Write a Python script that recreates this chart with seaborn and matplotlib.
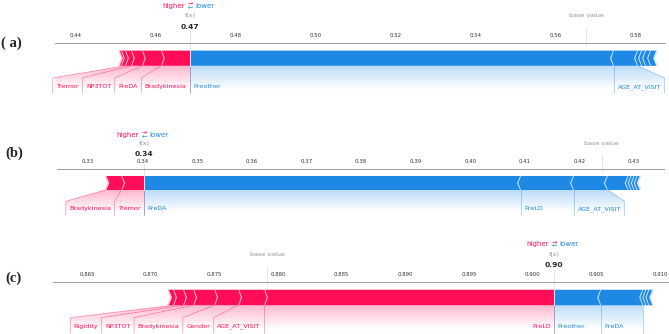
import numpy as np
import matplotlib
matplotlib.use("Agg")
import matplotlib.pyplot as plt
from matplotlib.path import Path
from matplotlib.patches import PathPatch, Polygon
from matplotlib.colors import LinearSegmentedColormap
import seaborn as sns

sns.set_theme(style="white")
plt.rcParams["font.family"] = ["DejaVu Sans"]

# ---------------------------------------------------------------------------
# Data (SHAP contributions)
# ---------------------------------------------------------------------------

a_base = 0.5675
a_pos_names = ["Bradykinesia", "PreDA", "NP3TOT", "Tremor", "", ""]
a_pos_vals = [0.00725, 0.00475, 0.00275, 0.0015, 0.001, 0.0005]
a_neg_names = ["Preother", "AGE_AT_VISIT", "", "", "", ""]
a_neg_vals = [0.106, 0.006, 0.001, 0.001, 0.00125, 0.0015]
a_ticks = [0.44, 0.46, 0.48, 0.50, 0.52, 0.54, 0.56, 0.58]
a_ticklabels = ["0.44", "0.46", "0.48", "0.50", "0.52", "0.54", "0.56", "0.58"]
a_xlim = (0.43475, 0.58725)

b_base = 0.4241
b_pos_names = ["Tremor", "Bradykinesia"]
b_pos_vals = [0.0042, 0.0029]
b_neg_names = ["PreDA", "PreLD", "AGE_AT_VISIT", "", "", "", "", ""]
b_neg_vals = [0.0690, 0.0097, 0.0062, 0.0038, 0.00055, 0.00055, 0.00055, 0.00055]
b_ticks = [0.33, 0.34, 0.35, 0.36, 0.37, 0.38, 0.39, 0.40, 0.41, 0.42, 0.43]
b_ticklabels = ["0.33", "0.34", "0.35", "0.36", "0.37", "0.38", "0.39", "0.40", "0.41", "0.42", "0.43"]
b_xlim = (0.32432, 0.43549)

c_base = 0.87914
c_pos_names = ["PreLD", "AGE_AT_VISIT", "Gender", "Bradykinesia", "NP3TOT", "Rigidity", ""]
c_pos_vals = [0.02278, 0.00204, 0.00188, 0.00165, 0.00079, 0.00079, 0.00039]
c_neg_names = ["Preother", "PreDA", "", "", ""]
c_neg_vals = [0.00369, 0.0033, 0.00024, 0.00024, 0.0003]
c_ticks = [0.865, 0.870, 0.875, 0.880, 0.885, 0.890, 0.895, 0.900, 0.905, 0.910]
c_ticklabels = ["0.865", "0.870", "0.875", "0.880", "0.885", "0.890", "0.895", "0.900", "0.905", "0.910"]
c_xlim = (0.86233, 0.91063)

panel_tags = ["( a)", "(b)", "(c)"]

# ---------------------------------------------------------------------------
# Style
# ---------------------------------------------------------------------------

RED = "#FF0D57"
BLUE = "#1E88E5"
RED_LIGHT = "#FFC3D5"
BLUE_LIGHT = "#D1E6FA"
SCALE = 0.385          # the force plots were shrunk to fit the page
LABEL_FS = 12 * SCALE
OUT_FS = 14 * SCALE
HL_FS = 13 * SCALE
TICK_FS = 10 * SCALE
BAR_W = 0.1
YLIM = (-0.2, 0.15)

W, H = 669, 334
fig = plt.figure(figsize=(W / 100, H / 100), dpi=100)
renderer = fig.canvas.get_renderer()


def px(ax, n):
    """n pixels expressed in x data units."""
    x0, x1 = ax.get_xlim()
    return n * (x1 - x0) / (ax.get_position().width * W)


def draw_bars(ax, fx, vals, kind):
    sep = (ax.get_xlim()[1] - ax.get_xlim()[0]) / 200
    pre = fx
    for i, v in enumerate(vals):
        if kind == "pos":
            left, right = pre - v, pre
            pre = left
            indent, sep_pos, cols = abs(sep), left, (RED, RED_LIGHT)
        else:
            left, right = pre, pre + v
            pre = right
            indent, sep_pos, cols = -abs(sep), right, (BLUE, BLUE_LIGHT)
        if i == 0:
            if kind == "pos":
                pts = [[left, 0], [right, 0], [right, BAR_W], [left, BAR_W], [left + indent, BAR_W / 2]]
            else:
                pts = [[right, 0], [left, 0], [left, BAR_W], [right, BAR_W], [right + indent, BAR_W / 2]]
        else:
            pts = [[left, 0], [right, 0], [right + indent * 0.9, BAR_W / 2], [right, BAR_W],
                   [left, BAR_W], [left + indent * 0.9, BAR_W / 2]]
        ax.add_patch(Polygon(pts, closed=True, fill=True, facecolor=cols[0], linewidth=0))
        ax.add_patch(Polygon([[sep_pos, 0], [sep_pos + indent, BAR_W / 2], [sep_pos, BAR_W]],
                             closed=False, fill=False, edgecolor=cols[1], lw=3 * SCALE))


def draw_labels(ax, fx, names, vals, kind):
    if kind == "pos":
        col, sign, ha, rgb = RED, 1, "right", (255, 13, 87)
    else:
        col, sign, ha, rgb = BLUE, -1, "left", (30, 136, 229)
    offset = px(ax, 3.5)
    lw = 1.2 * SCALE
    ax.plot([fx, fx], [0, -0.18], lw=lw, alpha=0.5, color=col, clip_on=False)
    start, pre, box_end = fx, fx, fx
    ends = fx - sign * np.cumsum(vals)
    for name, end in zip(names, ends):
        if not name:
            break
        t = ax.text(start - sign * offset, -0.145, name, fontsize=LABEL_FS, color=col,
                    ha=ha, va="baseline")
        bb = t.get_window_extent(renderer=renderer).transformed(ax.transData.inverted())
        edge = bb.x0 if kind == "pos" else bb.x1
        if sign * edge > sign * end:
            ax.plot([end, end], [0, -0.18], lw=lw, alpha=0.5, color=col, clip_on=False)
            start = box_end = end
        else:
            box_end = edge - sign * offset
            ax.plot([end, box_end, box_end], [0, -0.08, -0.18], lw=lw, alpha=0.5, color=col,
                    clip_on=False)
            start = box_end
        pre = end

    path = Path([[fx, 0], [pre, 0], [box_end, -0.08], [box_end, -0.2], [fx, -0.2], [fx, 0]])
    patch = PathPatch(path, facecolor="none", edgecolor="none")
    ax.add_patch(patch)
    cm = LinearSegmentedColormap.from_list("cm", [np.array(rgb) / 255, (1, 1, 1)])
    _, z = np.meshgrid(np.linspace(0, 10), np.linspace(-10, 10))
    im = ax.imshow(z, interpolation="quadric", cmap=cm, vmax=0.01, alpha=0.3, origin="lower",
                   extent=[fx, box_end, 0, -0.31], aspect="auto")
    im.set_clip_path(patch)


def force_panel(box, xlim, base, pos_names, pos_vals, neg_names, neg_vals, ticks, ticklabels):
    left, right, top, ppu = box
    h = (YLIM[1] - YLIM[0]) * ppu
    ax = fig.add_axes([left / W, 1 - (top + h) / H, (right - left) / W, h / H])
    ax.patch.set_visible(False)
    ax.set_xlim(*xlim)
    ax.set_ylim(*YLIM)

    fx = base + sum(pos_vals) - sum(neg_vals)
    draw_bars(ax, fx, pos_vals, "pos")
    draw_bars(ax, fx, neg_vals, "neg")
    draw_labels(ax, fx, pos_names, pos_vals, "pos")
    draw_labels(ax, fx, neg_names, neg_vals, "neg")

    # higher / lower legend
    hl = px(ax, 5.5)
    ax.text(fx - hl, 0.38, "higher", fontsize=HL_FS, color=RED, ha="right")
    ax.text(fx + hl, 0.38, "lower", fontsize=HL_FS, color=BLUE, ha="left")
    ax.text(fx, 0.372, r"$\leftarrow$", fontsize=HL_FS * 0.9, color=BLUE, ha="center")
    ax.text(fx, 0.395, r"$\rightarrow$", fontsize=HL_FS * 0.9, color=RED, ha="center")

    # base value
    ax.plot([base, base], [0.13, 0.25], lw=2 * SCALE, color="#E6E6E6", clip_on=False)
    ax.text(base, 0.32, "base value", fontsize=LABEL_FS, alpha=0.5, ha="center",
            bbox=dict(facecolor="white", edgecolor="white", pad=0.4))

    # output value
    ax.plot([fx, fx], [0, 0.24], lw=2 * SCALE, color="#E6E6E6", clip_on=False)
    ax.text(fx, 0.245, f"{fx:.2f}", fontsize=OUT_FS, fontweight="bold", ha="center",
            bbox=dict(facecolor="white", edgecolor="white", pad=0.2))
    ax.text(fx, 0.32, "f(x)", fontsize=LABEL_FS, alpha=0.5, ha="center",
            bbox=dict(facecolor="white", edgecolor="white", pad=0.4))

    ax.set_xticks(ticks)
    ax.set_xticklabels(ticklabels)
    ax.set_yticks([])
    ax.xaxis.tick_top()
    ax.tick_params(axis="x", top=True, bottom=False, labeltop=True, labelbottom=False,
                   labelsize=TICK_FS, length=2, width=0.4, pad=1.5, color="#555555",
                   labelcolor="#333333")
    sns.despine(ax=ax, top=False, left=True, right=True, bottom=True)
    ax.spines["top"].set_linewidth(0.6)
    ax.spines["top"].set_color("#8a8a8a")
    ax.set_xlim(*xlim)
    ax.set_ylim(*YLIM)
    return ax


force_panel((55, 665, 43, 152), a_xlim, a_base, a_pos_names, a_pos_vals, a_neg_names, a_neg_vals,
            a_ticks, a_ticklabels)
force_panel((57, 664, 169, 140), b_xlim, b_base, b_pos_names, b_pos_vals, b_neg_names, b_neg_vals,
            b_ticks, b_ticklabels)
force_panel((53, 668, 282, 155), c_xlim, c_base, c_pos_names, c_pos_vals, c_neg_names, c_neg_vals,
            c_ticks, c_ticklabels)

for tag, (x, y) in zip(panel_tags, [(1, 43), (5, 153), (5, 278)]):
    fig.text(x / W, 1 - y / H, tag, fontsize=10.5, fontweight="bold", family="Liberation Serif",
             va="center", ha="left")

fig.savefig("out.png", dpi=100, facecolor="white")
